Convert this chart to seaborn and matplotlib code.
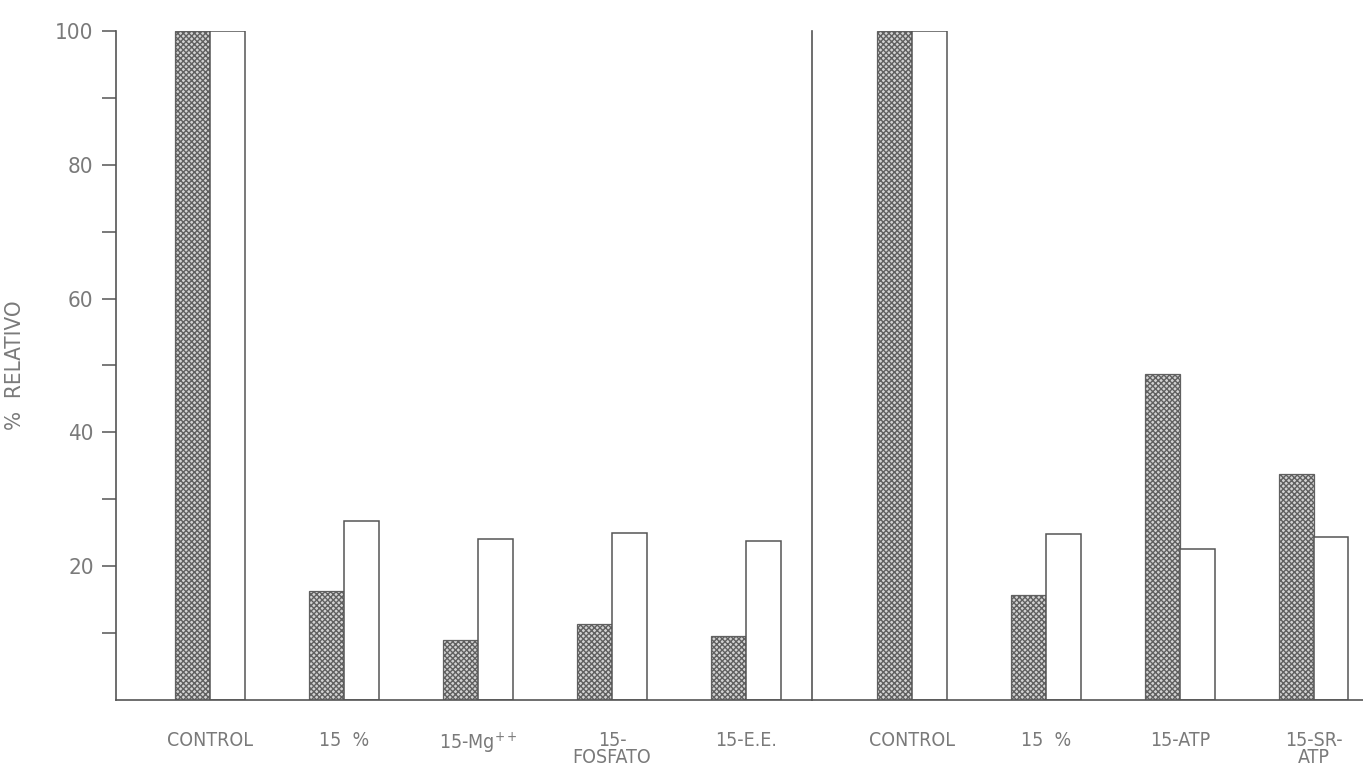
import pandas as pd
import matplotlib.pyplot as plt
import seaborn as sns

# --- datos ---
etiquetas_a = ["CONTROL", "15  %", "15-Mg$^{++}$", "15-\nFOSFATO", "15-E.E."]
punteado_a = [100, 16.3, 9.0, 11.4, 9.6]
blanco_a = [100, 26.8, 24.0, 24.9, 23.8]

etiquetas_b = ["CONTROL", "15  %", "15-ATP", "15-SR-\nATP"]
punteado_b = [100, 15.7, 48.7, 33.8]
blanco_b = [100, 24.8, 22.6, 24.3]

series = ["punteado", "blanco"]

sns.set_style("white")
plt.rcParams["font.family"] = ["DejaVu Sans"]
plt.rcParams["font.stretch"] = "condensed"
plt.rcParams["hatch.linewidth"] = 1.0
plt.rcParams["hatch.color"] = "#686868"

gris = "#555555"
texto = "#7a7a7a"


def tabla(etiquetas, punteado, blanco):
    df = pd.DataFrame({"grupo": etiquetas, series[0]: punteado, series[1]: blanco})
    return df.melt(id_vars="grupo", var_name="serie", value_name="valor")


fig = plt.figure(figsize=(13.63, 7.76), dpi=100)
gs = fig.add_gridspec(1, 2, width_ratios=[696, 551], wspace=0,
                      left=0.085, right=1.0, bottom=0.098, top=0.96)
ax1 = fig.add_subplot(gs[0])
ax2 = fig.add_subplot(gs[1], sharey=ax1)

for ax, df in [(ax1, tabla(etiquetas_a, punteado_a, blanco_a)),
               (ax2, tabla(etiquetas_b, punteado_b, blanco_b))]:
    sns.barplot(data=df, x="grupo", y="valor", hue="serie", hue_order=series,
                width=0.52, dodge=True, legend=False, ax=ax, errorbar=None)
    # punteado y blanco
    for bar in ax.containers[0]:
        bar.set_facecolor("#d2d2d2")
        bar.set_edgecolor("#606060")
        bar.set_hatch("xxxxxx")
        bar.set_linewidth(0.9)
    for bar in ax.containers[1]:
        bar.set_facecolor("white")
        bar.set_edgecolor(gris)
        bar.set_linewidth(1.1)
    ax.set_xlabel("")
    ax.set_ylabel("")
    ax.tick_params(axis="x", length=0, pad=22, labelsize=14, labelcolor=texto)
    for lab in ax.get_xticklabels():
        lab.set_verticalalignment("top")
        lab.set_linespacing(0.9)
    for s in ["top", "right"]:
        ax.spines[s].set_visible(False)
    for s in ["left", "bottom"]:
        ax.spines[s].set_color(gris)
        ax.spines[s].set_linewidth(1.2)

ax1.set_xlim(-0.70, 4.49)
ax2.set_xlim(-0.75, 3.37)
ax1.set_ylim(0, 100)

ax1.set_yticks(range(10, 101, 10))
ax1.set_yticklabels(["" if v % 20 else str(v) for v in range(10, 101, 10)])
ax1.tick_params(axis="y", direction="out", length=10, width=1.1, color=gris,
                labelsize=16, labelcolor=texto, left=True, pad=6)
ax1.set_ylabel("%  RELATIVO", fontsize=16, color=texto, labelpad=22)

ax2.tick_params(axis="y", left=False, labelleft=False)

fig.savefig("out.png", dpi=100)
